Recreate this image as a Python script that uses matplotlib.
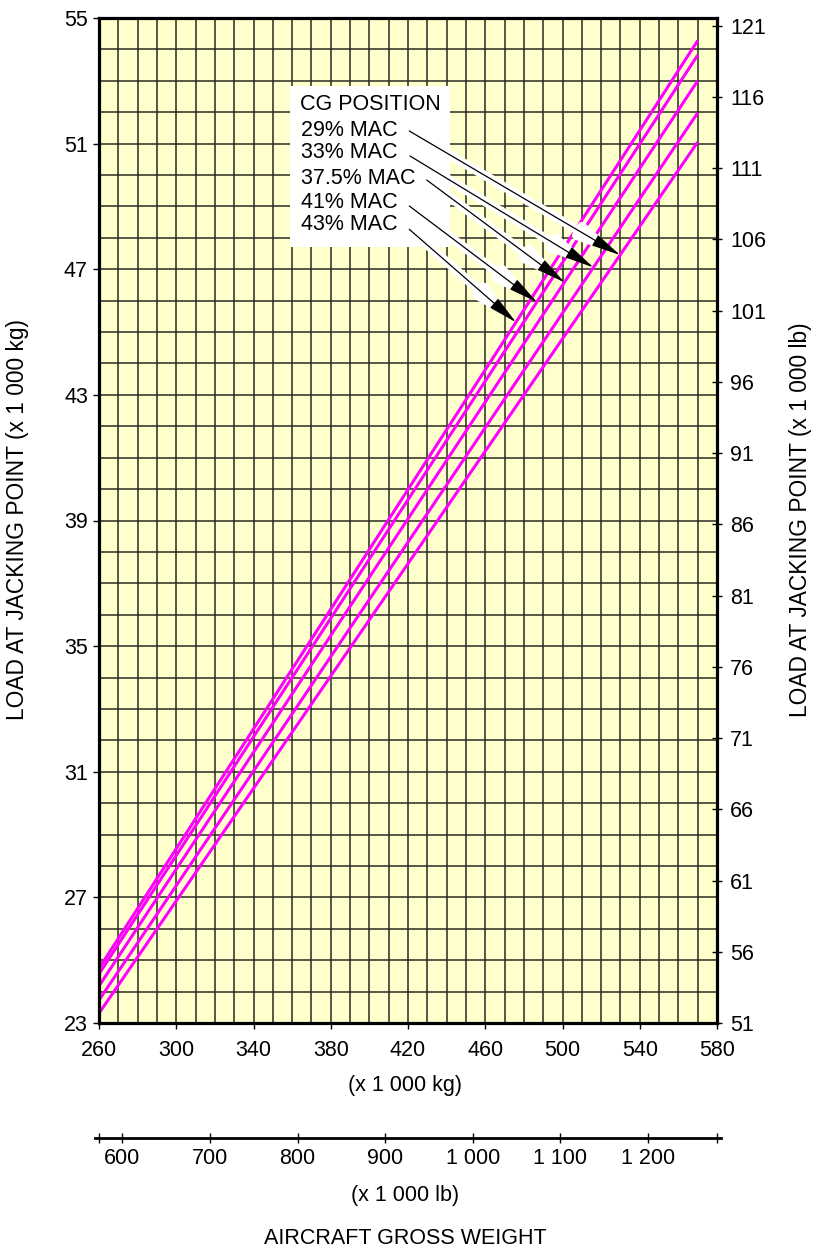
import numpy as np
import matplotlib
matplotlib.use("Agg")
import matplotlib.pyplot as plt
from matplotlib.patches import Rectangle
from matplotlib.ticker import FixedLocator, MultipleLocator

plt.rcParams['font.family'] = ['Liberation Sans', 'DejaVu Sans']

LB_PER_KG = 2.20462

# Gross weight (x 1 000 kg) at the two ends of every CG line
gross_weight_kg = [260, 570]

# Load at jacking point (x 1 000 kg) for each CG position
cg_labels = ["29% MAC", "33% MAC", "37.5% MAC", "41% MAC", "43% MAC"]
load_29 = [23.31, 51.05]
load_33 = [23.73, 51.98]
load_375 = [24.18, 53.00]
load_41 = [24.56, 53.82]
load_43 = [24.74, 54.28]
cg_loads = [load_29, load_33, load_375, load_41, load_43]

# Gross weight where each pointer touches its line
pointer_weight = [529.8, 516.0, 501.0, 486.7, 475.9]

x_ticks_kg = [260, 300, 340, 380, 420, 460, 500, 540, 580]
y_ticks_kg = [23, 27, 31, 35, 39, 43, 47, 51, 55]
y_ticks_lb = [51, 56, 61, 66, 71, 76, 81, 86, 91, 96, 101, 106, 111, 116, 121]
x_ticks_lb = [600, 700, 800, 900, 1000, 1100, 1200]
x_ticklabels_lb = ["600", "700", "800", "900", "1 000", "1 100", "1 200"]

TICK_FS = 15.5
TEXT_FS = 15.5
SIDE_FS = 16.4

W, H = 815, 1253
fig = plt.figure(figsize=(W / 100, H / 100), dpi=100)

AX_L, AX_T, AX_R, AX_B = 99, 18, 717, 1023
ax = fig.add_axes([AX_L / W, 1 - AX_B / H, (AX_R - AX_L) / W, (AX_B - AX_T) / H])
ax.set_facecolor('#FFFFCC')
ax.set_xlim(260, 580)
ax.set_ylim(23, 55)

# grid: every 10 000 kg of weight, every 1 000 kg of load
ax.xaxis.set_major_locator(FixedLocator(x_ticks_kg))
ax.yaxis.set_major_locator(FixedLocator(y_ticks_kg))
ax.xaxis.set_minor_locator(MultipleLocator(10))
ax.yaxis.set_minor_locator(MultipleLocator(1))
ax.grid(which='both', color='#2a2a22', linewidth=1.1)
ax.set_axisbelow(True)
ax.tick_params(which='minor', length=0)
ax.tick_params(which='major', direction='out', length=4, width=1.0,
               labelsize=TICK_FS, colors='black')
ax.tick_params(axis='x', which='major', pad=8)
ax.tick_params(axis='y', which='major', pad=4)
for sp in ax.spines.values():
    sp.set_linewidth(2.3)
    sp.set_zorder(5)

for loads in cg_loads:
    ax.plot(gross_weight_kg, loads, color='#FF00FF', linewidth=2.2,
            solid_capstyle='butt', zorder=3)

# right-hand load scale in pounds
ax2 = ax.twinx()
ax2.set_ylim(51, 51 + (55 - 23) * LB_PER_KG)
ax2.yaxis.set_major_locator(FixedLocator(y_ticks_lb))
ax2.tick_params(axis='y', direction='inout', length=7, width=1.0,
                labelsize=TICK_FS, pad=6)
for sp in ax2.spines.values():
    sp.set_visible(False)


def axfrac(px, py):
    return (px - AX_L) / (AX_R - AX_L), (AX_B - py) / (AX_B - AX_T)


# CG position key
bx0, by0 = axfrac(290, 247)
bx1, by1 = axfrac(450, 86)
ax.add_patch(Rectangle((bx0, by0), bx1 - bx0, by1 - by0, transform=ax.transAxes,
                       facecolor='white', edgecolor='none', zorder=4))
tx, ty = axfrac(300, 104)
ax.text(tx, ty, "CG POSITION", transform=ax.transAxes, fontsize=TEXT_FS,
        ha='left', va='center', zorder=6)
label_rows = [130, 153, 178, 202, 225]
arrow_starts = [(409.3, 131), (410, 156), (426.7, 180), (409.3, 206), (409.3, 229.3)]
for lab, row, start, loads, pw in zip(cg_labels, label_rows, arrow_starts,
                                      cg_loads, pointer_weight):
    lx, ly = axfrac(301, row)
    ax.text(lx, ly, lab, transform=ax.transAxes, fontsize=TEXT_FS,
            ha='left', va='center', zorder=6)
    tip = (pw, np.interp(pw, gross_weight_kg, loads))
    sx, sy = axfrac(*start)
    for col, lw, z in (('white', 6.5, 7), ('black', 0.9, 8)):
        ax.annotate('', xy=tip, xycoords='data', xytext=(sx, sy),
                    textcoords='axes fraction',
                    arrowprops=dict(arrowstyle='-|>,head_length=1.3,head_width=0.27',
                                    mutation_scale=14, color=col, lw=lw,
                                    shrinkA=0, shrinkB=0),
                    zorder=z)

# second weight scale in pounds below the chart
pad_kg = 4 * (580 - 260) / (AX_R - AX_L)
ax3 = fig.add_axes([(AX_L - 4) / W, 1 - 1138 / H, (AX_R - AX_L + 8) / W, 1e-6])
ax3.set_xlim((260 - pad_kg) * LB_PER_KG, (580 + pad_kg) * LB_PER_KG)
ax3.patch.set_visible(False)
for side in ('left', 'right', 'top'):
    ax3.spines[side].set_visible(False)
ax3.spines['bottom'].set_linewidth(2.0)
ax3.set_yticks([])
ax3.xaxis.set_major_locator(FixedLocator(x_ticks_lb))
ax3.set_xticklabels(x_ticklabels_lb)
ax3.xaxis.set_minor_locator(FixedLocator([260 * LB_PER_KG, 580 * LB_PER_KG]))
ax3.tick_params(axis='x', which='both', direction='inout', length=7, width=1.0)
ax3.tick_params(axis='x', which='major', labelsize=TICK_FS, pad=4)

fig.text(405 / W, 1 - 1085 / H, "(x 1 000 kg)", fontsize=TEXT_FS, ha='center', va='center')
fig.text(405 / W, 1 - 1195 / H, "(x 1 000 lb)", fontsize=TEXT_FS, ha='center', va='center')
fig.text(405 / W, 1 - 1238 / H, "AIRCRAFT GROSS WEIGHT", fontsize=TEXT_FS,
         ha='center', va='center')
fig.text(18 / W, 1 - 520 / H, "LOAD AT JACKING POINT (x 1 000 kg)", fontsize=SIDE_FS,
         rotation=90, ha='center', va='center')
fig.text(800 / W, 1 - 520 / H, "LOAD AT JACKING POINT (x 1 000 lb)", fontsize=SIDE_FS,
         rotation=90, ha='center', va='center')

fig.savefig("out.png", dpi=100)
